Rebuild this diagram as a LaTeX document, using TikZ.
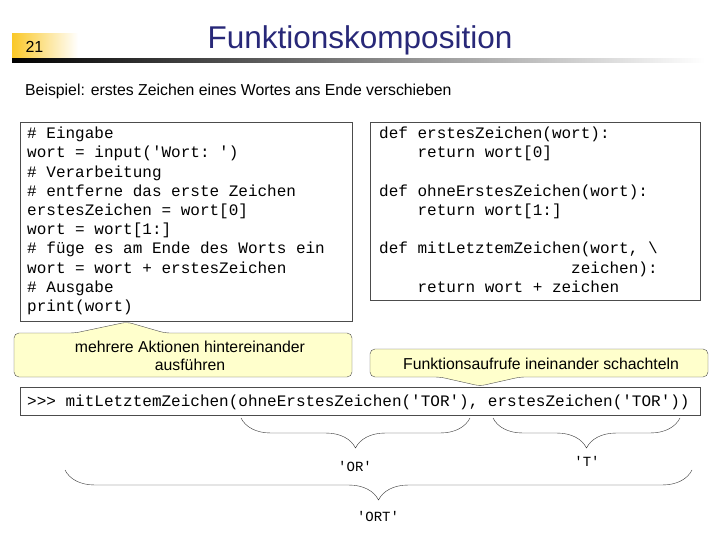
\documentclass[tikz,border=0pt]{standalone}
\usepackage{fontspec}
\setmainfont{Liberation Sans}
\setmonofont{Liberation Mono}
\usetikzlibrary{positioning,decorations.pathreplacing}
\definecolor{titleblue}{RGB}{40,40,120}
\definecolor{noteyellow}{RGB}{255,255,204}
\definecolor{numyellow}{RGB}{250,200,40}
\newcommand{\ind}{\phantom{xxxx}}

\begin{document}
\begin{tikzpicture}[x=1pt, y=-1pt,
    codebox/.style={draw=black!70, fill=white},
    code/.style={font=\ttfamily\fontsize{16}{19.2}\selectfont, align=left, anchor=north west, inner sep=0pt},
    note/.style={draw=black!70, fill=noteyellow, rounded corners=5pt},
    notetext/.style={font=\fontsize{15.8}{18}\selectfont, align=center},
    brace/.style={decorate, decoration={brace, amplitude=30pt, mirror, aspect=0.5}, black!80},
    result/.style={font=\ttfamily\fontsize{14}{16}\selectfont}]
    \useasboundingbox (0,0) rectangle (720,540);

    % header
    \shade[left color=numyellow, right color=white] (12,34) rectangle (78,60);
    \node[font=\fontsize{16}{18}\selectfont, anchor=west] (num) at (22,47) {21};
    \node[font=\fontsize{31.5}{36}\selectfont, text=titleblue] (title) at (360,40) {Funktionskomposition};
    \shade[left color=black, right color=white] (12,59) rectangle (705,63);
    \node[font=\fontsize{15.8}{18}\selectfont, anchor=west, inner sep=0pt] (intro) at (25,91) {Beispiel: erstes Zeichen eines Wortes ans Ende verschieben};

    % code boxes
    \draw[codebox] (20,122) rectangle (352,321);
    \node[code] (prog) at (27,127) {\# Eingabe\\wort = input('Wort: ')\\\# Verarbeitung\\\# entferne das erste Zeichen\\erstesZeichen = wort[0]\\wort = wort[1:]\\\# füge es am Ende des Worts ein\\wort = wort + erstesZeichen\\\# Ausgabe\\print(wort)};
    \draw[codebox] (370,122) rectangle (700,300);
    \node[code] (defs) at (379,127) {def erstesZeichen(wort):\\\ind return wort[0]\\ \\def ohneErstesZeichen(wort):\\\ind return wort[1:]\\ \\def mitLetztemZeichen(wort, \textbackslash\\\hfill zeichen):\\\ind return wort + zeichen};

    % notes
    \draw[note] (14,377) -- (14,333) -- (75,333) -- (127,322) -- (165,333) -- (352,333) -- (352,377) -- cycle;
    \node[notetext] (seq) at (190,356) {mehrere Aktionen hintereinander\\ausführen};
    \draw[note] (370,349) -- (370,377) -- (440,377) -- (480,386) -- (520,377) -- (708,377) -- (708,349) -- cycle;
    \node[notetext] (nest) at (541,364) {Funktionsaufrufe ineinander schachteln};

    % call
    \draw[codebox] (20,387) rectangle (700,415);
    \node[code, anchor=west] (call) at (27,402) {>>> mitLetztemZeichen(ohneErstesZeichen('TOR'), erstesZeichen('TOR'))};

    % braces
    \coordinate (b1l) at (241,418);
    \coordinate (b1r) at (470,418);
    \coordinate (b2l) at (493,418);
    \coordinate (b2r) at (680,418);
    \coordinate (b3l) at (65,470);
    \coordinate (b3r) at (692,470);
    \draw[brace] (b1l) -- (b1r);
    \draw[brace] (b2l) -- (b2r);
    \draw[brace] (b3l) -- (b3r);
    \node[result] (or) at (355,466) {'OR'};
    \node[result] (t) at (587,461) {'T'};
    \node[result] (ort) at (378,516) {'ORT'};
\end{tikzpicture}
\end{document}
